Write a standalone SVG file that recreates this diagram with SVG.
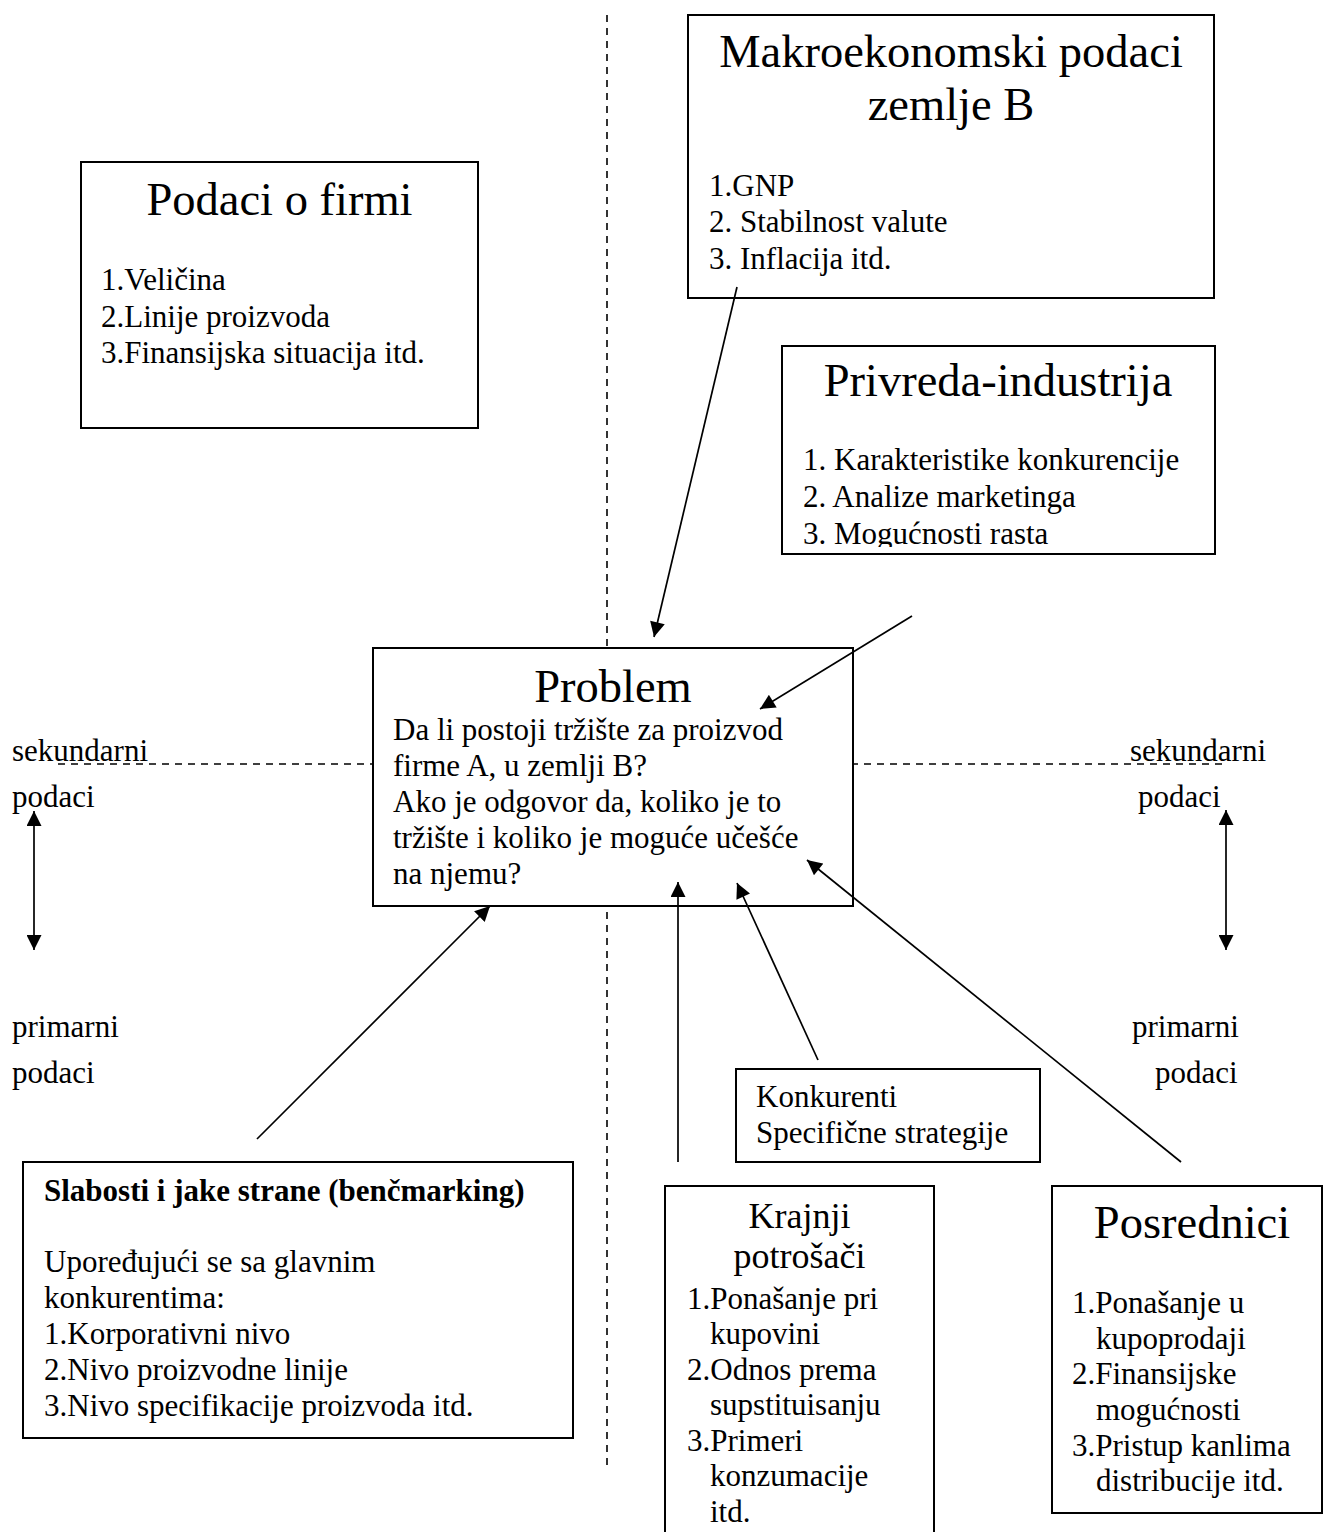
<svg xmlns="http://www.w3.org/2000/svg" width="1324" height="1532" viewBox="0 0 1324 1532">
<style>
text{font-family:"Liberation Serif","Times New Roman",serif;fill:#000}
.t{font-size:46.5px}
.m{font-size:36px}
.s{font-size:31px}
.b{font-size:31px;font-weight:bold}
.box{fill:#fff;stroke:#000;stroke-width:2}
.dash{stroke:#000;stroke-width:1.6;stroke-dasharray:7 6;fill:none}
.ln{stroke:#000;stroke-width:1.7;fill:none}
.arr{marker-end:url(#ah)}
.dbl{marker-start:url(#ah);marker-end:url(#ah)}
</style>
<defs>
<marker id="ah" viewBox="0 0 10 10" refX="10" refY="5" markerWidth="16" markerHeight="15" markerUnits="userSpaceOnUse" orient="auto-start-reverse">
<path d="M0,0 L10,5 L0,10 z" fill="#000"/>
</marker>
<clipPath id="clipPriv"><rect x="782" y="346" width="433" height="201"/></clipPath>
</defs>
<rect width="1324" height="1532" fill="#fff"/>

<g id="axes">
<line class="dash" x1="607" y1="15" x2="607" y2="1466"/>
<line class="dash" x1="58" y1="764" x2="1223" y2="764"/>
<line class="ln dbl" x1="34" y1="811" x2="34" y2="950"/>
<line class="ln dbl" x1="1226" y1="810" x2="1226" y2="950"/>
</g>

<g id="axis-labels">
<text class="s" x="12" y="761">sekundarni</text>
<text class="s" x="12" y="807">podaci</text>
<text class="s" x="12" y="1037">primarni</text>
<text class="s" x="12" y="1083">podaci</text>
<text class="s" x="1130" y="761">sekundarni</text>
<text class="s" x="1138" y="807">podaci</text>
<text class="s" x="1132" y="1037">primarni</text>
<text class="s" x="1155" y="1083">podaci</text>
</g>

<g id="node-firma">
<rect class="box" x="81" y="162" width="397" height="266"/>
<text class="t" x="279.5" y="215" text-anchor="middle">Podaci o firmi</text>
<text class="s" x="101" y="290">1.Veličina</text>
<text class="s" x="101" y="327">2.Linije proizvoda</text>
<text class="s" x="101" y="363">3.Finansijska situacija itd.</text>
</g>

<g id="node-makro">
<rect class="box" x="688" y="15" width="526" height="283"/>
<text class="t" x="951" y="67" text-anchor="middle">Makroekonomski podaci</text>
<text class="t" x="951" y="120" text-anchor="middle">zemlje B</text>
<text class="s" x="709" y="196">1.GNP</text>
<text class="s" x="709" y="232">2. Stabilnost valute</text>
<text class="s" x="709" y="269">3. Inflacija itd.</text>
</g>

<g id="node-privreda">
<rect class="box" x="782" y="346" width="433" height="208"/>
<text class="t" x="998" y="396" text-anchor="middle">Privreda-industrija</text>
<g clip-path="url(#clipPriv)">
<text class="s" x="803" y="470">1. Karakteristike konkurencije</text>
<text class="s" x="803" y="507">2. Analize marketinga</text>
<text class="s" x="803" y="544">3. Mogućnosti rasta</text>
</g>
</g>

<g id="node-problem">
<rect class="box" x="373" y="648" width="480" height="258"/>
<text class="t" x="613" y="702" text-anchor="middle">Problem</text>
<text class="s" x="393" y="740">Da li postoji tržište za proizvod</text>
<text class="s" x="393" y="776">firme A, u zemlji B?</text>
<text class="s" x="393" y="812">Ako je odgovor da, koliko je to</text>
<text class="s" x="393" y="848">tržište i koliko je moguće učešće</text>
<text class="s" x="393" y="884">na njemu?</text>
</g>

<g id="node-konkurenti">
<rect class="box" x="736" y="1069" width="304" height="93"/>
<text class="s" x="756" y="1107">Konkurenti</text>
<text class="s" x="756" y="1143">Specifične strategije</text>
</g>

<g id="node-slabosti">
<rect class="box" x="23" y="1162" width="550" height="276"/>
<text class="b" x="44" y="1201">Slabosti i jake strane (benčmarking)</text>
<text class="s" x="44" y="1272">Upoređujući se sa glavnim</text>
<text class="s" x="44" y="1308">konkurentima:</text>
<text class="s" x="44" y="1344">1.Korporativni nivo</text>
<text class="s" x="44" y="1380">2.Nivo proizvodne linije</text>
<text class="s" x="44" y="1416">3.Nivo specifikacije proizvoda itd.</text>
</g>

<g id="node-krajnji">
<rect class="box" x="665" y="1186" width="269" height="360"/>
<text class="m" x="799.5" y="1228" text-anchor="middle">Krajnji</text>
<text class="m" x="799.5" y="1268" text-anchor="middle">potrošači</text>
<text class="s" x="687" y="1309">1.Ponašanje pri</text>
<text class="s" x="710" y="1344">kupovini</text>
<text class="s" x="687" y="1380">2.Odnos prema</text>
<text class="s" x="710" y="1415">supstituisanju</text>
<text class="s" x="687" y="1451">3.Primeri</text>
<text class="s" x="710" y="1486">konzumacije</text>
<text class="s" x="710" y="1522">itd.</text>
</g>

<g id="node-posrednici">
<rect class="box" x="1052" y="1186" width="270" height="327"/>
<text class="t" x="1192" y="1238" text-anchor="middle">Posrednici</text>
<text class="s" x="1072" y="1313">1.Ponašanje u</text>
<text class="s" x="1096" y="1349">kupoprodaji</text>
<text class="s" x="1072" y="1384">2.Finansijske</text>
<text class="s" x="1096" y="1420">mogućnosti</text>
<text class="s" x="1072" y="1456">3.Pristup kanlima</text>
<text class="s" x="1096" y="1491">distribucije itd.</text>
</g>

<g id="connectors">
<line class="ln arr" x1="737" y1="287" x2="654" y2="637"/>
<line class="ln arr" x1="912" y1="616" x2="760" y2="709"/>
<line class="ln arr" x1="257" y1="1139" x2="490" y2="906"/>
<line class="ln arr" x1="678" y1="1162" x2="678" y2="882"/>
<line class="ln arr" x1="818" y1="1060" x2="737" y2="883"/>
<line class="ln arr" x1="1181" y1="1162" x2="807" y2="860"/>
</g>
</svg>
